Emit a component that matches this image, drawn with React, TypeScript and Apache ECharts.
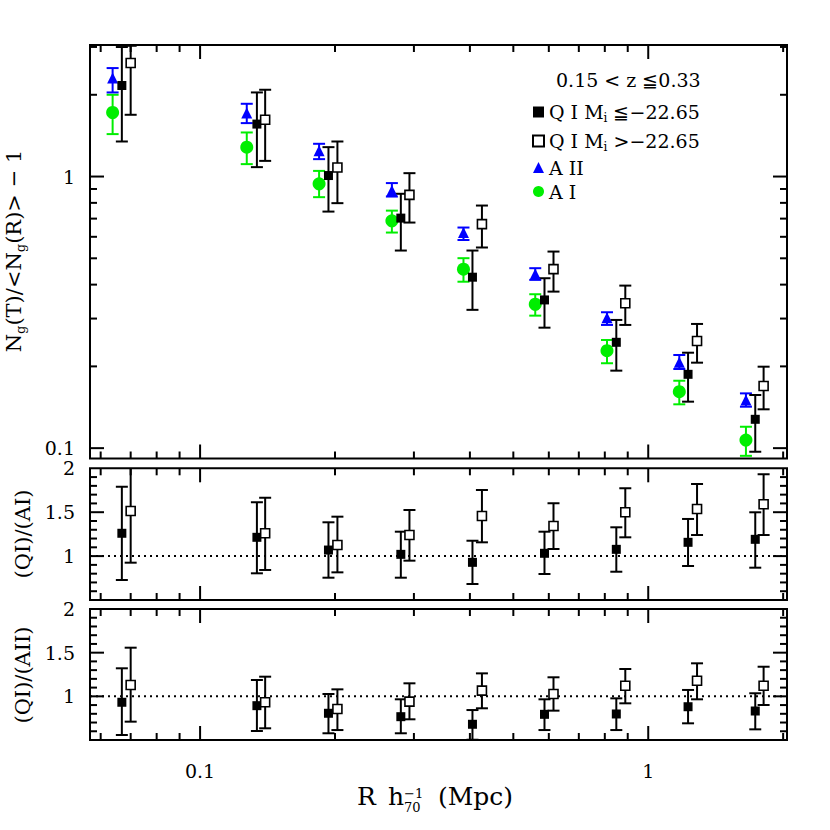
import React, { useEffect, useRef } from "react";
import * as echarts from "echarts";

// ---------- data ----------
const R_A = [0.0638, 0.1271, 0.1843, 0.2679, 0.387, 0.5596, 0.809, 1.173, 1.652];
const R_QIb = [0.0669, 0.1339, 0.1934, 0.2805, 0.4053, 0.5868, 0.8487, 1.227, 1.733];
const R_QIf = [0.07, 0.1397, 0.2025, 0.2932, 0.4255, 0.6146, 0.8888, 1.285, 1.809];

// top panel: Ng(T)/<Ng(R)> - 1
const AII_val = [2.305, 1.712, 1.244, 0.888, 0.622, 0.438, 0.3023, 0.2071, 0.1504];
const AII_lo = [2.04, 1.573, 1.159, 0.844, 0.584, 0.4164, 0.2842, 0.1956, 0.1421];
const AII_hi = [2.508, 1.853, 1.32, 0.946, 0.649, 0.4598, 0.3165, 0.2203, 0.1591];

const AI_val = [1.721, 1.283, 0.94, 0.687, 0.456, 0.3387, 0.2285, 0.1614, 0.1071];
const AI_lo = [1.433, 1.111, 0.8396, 0.622, 0.41, 0.3075, 0.2054, 0.145, 0.0937];
const AI_hi = [2.0, 1.453, 1.049, 0.749, 0.5005, 0.3687, 0.2502, 0.1771, 0.1199];

const QIb_val = [2.164, 1.56, 1.0085, 0.703, 0.426, 0.3513, 0.2453, 0.187, 0.1277];
const QIb_lo = [1.346, 1.083, 0.743, 0.534, 0.323, 0.2777, 0.1929, 0.1483, 0.097];
const QIb_hi = [2.998, 2.04, 1.283, 0.864, 0.534, 0.4223, 0.2965, 0.2246, 0.1569];

const QIf_val = [2.617, 1.618, 1.079, 0.856, 0.668, 0.456, 0.3416, 0.248, 0.1694];
const QIf_lo = [1.688, 1.142, 0.798, 0.677, 0.548, 0.377, 0.2842, 0.2064, 0.139];
const QIf_hi = [3.03, 2.087, 1.346, 1.029, 0.782, 0.5294, 0.3967, 0.2866, 0.1995];

// middle panel: (QI)/(AI)
const rAI_b_val = [1.26, 1.214, 1.069, 1.02, 0.929, 1.032, 1.077, 1.157, 1.191];
const rAI_b_lo = [0.728, 0.804, 0.754, 0.754, 0.682, 0.796, 0.822, 0.887, 0.868];
const rAI_b_hi = [1.79, 1.613, 1.385, 1.278, 1.175, 1.278, 1.328, 1.423, 1.499];
const rAI_f_val = [1.514, 1.26, 1.126, 1.24, 1.457, 1.343, 1.499, 1.536, 1.59];
const rAI_f_lo = [0.925, 0.842, 0.815, 0.948, 1.157, 1.081, 1.214, 1.24, 1.24];
const rAI_f_hi = [2.1, 1.665, 1.449, 1.525, 1.753, 1.601, 1.772, 1.821, 1.932];

// bottom panel: (QI)/(AII)
const rAII_b_val = [0.932, 0.893, 0.806, 0.767, 0.68, 0.794, 0.798, 0.881, 0.832];
const rAII_b_lo = [0.557, 0.603, 0.577, 0.577, 0.503, 0.614, 0.614, 0.691, 0.622];
const rAII_b_hi = [1.321, 1.187, 1.027, 0.966, 0.843, 0.966, 0.977, 1.073, 1.035];
const rAII_f_val = [1.13, 0.932, 0.855, 0.939, 1.065, 1.027, 1.122, 1.179, 1.122];
const rAII_f_lo = [0.71, 0.634, 0.614, 0.737, 0.863, 0.836, 0.92, 0.966, 0.901];
const rAII_f_hi = [1.557, 1.225, 1.08, 1.149, 1.263, 1.218, 1.313, 1.378, 1.339];

// axes
const X_MIN = 0.0568;
const X_MAX = 2.04;
const Y_TOP_MIN = 0.0916;
const Y_TOP_MAX = 3.05;
const Y_R_MIN = 0.5;
const Y_R_MAX = 2;

const X_TICKS_MAJOR = [0.1, 1];
const X_TICKS_MINOR = [0.06, 0.07, 0.08, 0.09, 0.2, 0.3, 0.4, 0.5, 0.6, 0.7, 0.8, 0.9, 2];
const Y_TOP_MAJOR = [0.1, 1];
const Y_TOP_MINOR = [0.2, 0.3, 0.4, 0.5, 0.6, 0.7, 0.8, 0.9, 2, 3];
const Y_R_MAJOR = [1, 1.5];
const Y_R_MINOR = [0.6, 0.7, 0.8, 0.9, 1.1, 1.2, 1.3, 1.4, 1.6, 1.7, 1.8, 1.9];

const LEGEND_NAMES = ["Q I Mi ≦-22.65", "Q I Mi >-22.65", "A II", "A I"];
const HEADER = "0.15 < z ≦0.33";

// ---------- styles ----------
const FONT = "'DejaVu Serif', serif";
const BLUE = "#0000ff";
const GREEN = "#00ee00";
const BLACK = "#000000";

const GRID_LEFT = 90;
const GRID_RIGHT = 43;
const GRIDS = [
  { top: 45, height: 413.5 },
  { top: 468.3, height: 131.7 },
  { top: 609, height: 131 },
];

function errSeries(xs: number[], lo: number[], hi: number[], color: string, g: number, clip: boolean) {
  return {
    type: "custom",
    xAxisIndex: g,
    yAxisIndex: g,
    clip,
    silent: true,
    z: 2,
    encode: { x: 0, y: [1, 2] },
    data: xs.map((x, i) => [x, lo[i], hi[i]]),
    renderItem: (params: any, api: any) => {
      const x = api.value(0);
      const a = api.coord([x, api.value(1)]);
      const b = api.coord([x, api.value(2)]);
      const w = 6;
      const style = { stroke: color, lineWidth: 2, fill: "none" };
      return {
        type: "group",
        children: [
          { type: "line", shape: { x1: a[0], y1: a[1], x2: b[0], y2: b[1] }, style },
          { type: "line", shape: { x1: a[0] - w, y1: a[1], x2: a[0] + w, y2: a[1] }, style },
          { type: "line", shape: { x1: b[0] - w, y1: b[1], x2: b[0] + w, y2: b[1] }, style },
        ],
      };
    },
  };
}

function scatter(name: string, xs: number[], vals: number[], symbol: string, size: number, itemStyle: any, g: number) {
  return {
    type: "scatter",
    name,
    xAxisIndex: g,
    yAxisIndex: g,
    symbol,
    symbolSize: size,
    itemStyle: { opacity: 1, ...itemStyle },
    silent: true,
    z: 3,
    data: xs.map((x, i) => [x, vals[i]]),
  };
}

function tickSeries(g: number, yMaj: number[], yMin: number[], xRef: number, yRef: number) {
  const data: number[][] = [];
  X_TICKS_MAJOR.forEach((v) => data.push([v, yRef, 0, 1]));
  X_TICKS_MINOR.forEach((v) => data.push([v, yRef, 0, 0]));
  yMaj.forEach((v) => data.push([xRef, v, 1, 1]));
  yMin.forEach((v) => data.push([xRef, v, 1, 0]));
  return {
    type: "custom",
    xAxisIndex: g,
    yAxisIndex: g,
    silent: true,
    z: 5,
    encode: { x: 0, y: 1 },
    data,
    renderItem: (params: any, api: any) => {
      const cs = params.coordSys;
      const kind = api.value(2);
      const len = api.value(3) ? 14 : 7;
      const p = api.coord([api.value(0), api.value(1)]);
      const style = { stroke: BLACK, lineWidth: 2 };
      if (kind === 0) {
        const b = cs.y + cs.height;
        return {
          type: "group",
          children: [
            { type: "line", shape: { x1: p[0], y1: b, x2: p[0], y2: b - len }, style },
            { type: "line", shape: { x1: p[0], y1: cs.y, x2: p[0], y2: cs.y + len }, style },
          ],
        };
      }
      const r = cs.x + cs.width;
      return {
        type: "group",
        children: [
          { type: "line", shape: { x1: cs.x, y1: p[1], x2: cs.x + len, y2: p[1] }, style },
          { type: "line", shape: { x1: r, y1: p[1], x2: r - len, y2: p[1] }, style },
        ],
      };
    },
  };
}

function dotted(g: number) {
  return {
    type: "line",
    xAxisIndex: g,
    yAxisIndex: g,
    silent: true,
    symbol: "none",
    z: 1,
    lineStyle: { color: BLACK, width: 2, type: [2, 4] },
    data: [
      [X_MIN, 1],
      [X_MAX, 1],
    ],
  };
}

const labelStyle = { fontFamily: FONT, fontSize: 19, color: BLACK };
const rich = {
  t: { fontFamily: FONT, fontSize: 21, color: BLACK, lineHeight: 24 },
  s: { fontFamily: FONT, fontSize: 13, color: BLACK, lineHeight: 13, padding: [12, 0, 0, 0] },
  lt: { fontFamily: FONT, fontSize: 19, color: BLACK, lineHeight: 22 },
  ls: { fontFamily: FONT, fontSize: 12, color: BLACK, lineHeight: 12, padding: [12, 0, 0, 0] },
};

const legendFormat = (name: string) => {
  if (name.indexOf("Mi") >= 0) {
    const [a, b] = name.split("Mi");
    return `{lt|${a}M}{ls|i}{lt|${b.replace("-", "−")}}`;
  }
  return `{lt|${name}}`;
};

const option: any = {
  animation: false,
  backgroundColor: "#ffffff",
  grid: GRIDS.map((g) => ({
    left: GRID_LEFT,
    right: GRID_RIGHT,
    top: g.top,
    height: g.height,
    show: true,
    borderColor: BLACK,
    borderWidth: 2,
    backgroundColor: "transparent",
  })),
  xAxis: GRIDS.map((_, i) => ({
    type: "log",
    gridIndex: i,
    min: X_MIN,
    max: X_MAX,
    axisLine: { show: false },
    axisTick: { show: false },
    splitLine: { show: false },
    axisLabel: {
      show: i === 2,
      ...labelStyle,
      margin: 21,
      showMinLabel: false,
      showMaxLabel: false,
    },
  })),
  yAxis: GRIDS.map((_, i) =>
    i === 0
      ? {
          type: "log",
          gridIndex: 0,
          min: Y_TOP_MIN,
          max: Y_TOP_MAX,
          axisLine: { show: false },
          axisTick: { show: false },
          splitLine: { show: false },
          axisLabel: { ...labelStyle, margin: 15, showMinLabel: false, showMaxLabel: false },
        }
      : {
          type: "value",
          gridIndex: i,
          min: Y_R_MIN,
          max: Y_R_MAX,
          interval: 0.5,
          axisLine: { show: false },
          axisTick: { show: false },
          splitLine: { show: false },
          axisLabel: { ...labelStyle, margin: 15, showMinLabel: false, showMaxLabel: true },
        }
  ),
  legend: {
    data: LEGEND_NAMES,
    orient: "vertical",
    left: 527,
    top: 95,
    itemWidth: 11,
    itemHeight: 11,
    itemGap: 5,
    selectedMode: false,
    formatter: legendFormat,
    textStyle: { ...labelStyle, rich },
  },
  graphic: [
    {
      type: "text",
      left: 556,
      top: 70,
      style: { text: HEADER, font: `19px ${FONT}`, fill: BLACK },
    },
    {
      type: "text",
      x: 14,
      y: 251,
      rotation: Math.PI / 2,
      style: {
        text: "{t|N}{s|g}{t|(T)/<N}{s|g}{t|(R)> − 1}",
        rich,
        align: "center",
        verticalAlign: "middle",
      },
    },
    {
      type: "text",
      x: 23,
      y: 534,
      rotation: Math.PI / 2,
      style: { text: "(QI)/(AI)", font: `21px ${FONT}`, fill: BLACK, align: "center", verticalAlign: "middle" },
    },
    {
      type: "text",
      x: 23,
      y: 675,
      rotation: Math.PI / 2,
      style: { text: "(QI)/(AII)", font: `21px ${FONT}`, fill: BLACK, align: "center", verticalAlign: "middle" },
    },
    {
      type: "text",
      x: 357,
      y: 796,
      style: { text: "R", font: `25px ${FONT}`, fill: BLACK, align: "left", verticalAlign: "middle" },
    },
    {
      type: "text",
      x: 388,
      y: 796,
      style: { text: "h", font: `25px ${FONT}`, fill: BLACK, align: "left", verticalAlign: "middle" },
    },
    {
      type: "text",
      x: 404,
      y: 793,
      style: { text: "−1", font: `13px ${FONT}`, fill: BLACK, align: "left", verticalAlign: "middle" },
    },
    {
      type: "text",
      x: 404,
      y: 807,
      style: { text: "70", font: `13px ${FONT}`, fill: BLACK, align: "left", verticalAlign: "middle" },
    },
    {
      type: "text",
      x: 438,
      y: 796,
      style: { text: "(Mpc)", font: `25px ${FONT}`, fill: BLACK, align: "left", verticalAlign: "middle" },
    },
  ],
  series: [
    tickSeries(0, Y_TOP_MAJOR, Y_TOP_MINOR, 1, 1),
    tickSeries(1, Y_R_MAJOR, Y_R_MINOR, 1, 1),
    tickSeries(2, Y_R_MAJOR, Y_R_MINOR, 1, 1),
    dotted(1),
    dotted(2),
    // top panel
    errSeries(R_A, AI_lo, AI_hi, GREEN, 0, false),
    errSeries(R_A, AII_lo, AII_hi, BLUE, 0, false),
    errSeries(R_QIb, QIb_lo, QIb_hi, BLACK, 0, false),
    errSeries(R_QIf, QIf_lo, QIf_hi, BLACK, 0, false),
    scatter(LEGEND_NAMES[3], R_A, AI_val, "circle", 13, { color: GREEN }, 0),
    scatter(LEGEND_NAMES[2], R_A, AII_val, "triangle", 11, { color: BLUE }, 0),
    scatter(LEGEND_NAMES[0], R_QIb, QIb_val, "rect", 9, { color: BLACK }, 0),
    scatter(LEGEND_NAMES[1], R_QIf, QIf_val, "rect", 9, { color: "#ffffff", borderColor: BLACK, borderWidth: 1.6 }, 0),
    // middle panel
    errSeries(R_QIb, rAI_b_lo, rAI_b_hi, BLACK, 1, true),
    errSeries(R_QIf, rAI_f_lo, rAI_f_hi, BLACK, 1, true),
    scatter("AI ratio bright", R_QIb, rAI_b_val, "rect", 9, { color: BLACK }, 1),
    scatter("AI ratio faint", R_QIf, rAI_f_val, "rect", 9, { color: "#ffffff", borderColor: BLACK, borderWidth: 1.6 }, 1),
    // bottom panel
    errSeries(R_QIb, rAII_b_lo, rAII_b_hi, BLACK, 2, true),
    errSeries(R_QIf, rAII_f_lo, rAII_f_hi, BLACK, 2, true),
    scatter("AII ratio bright", R_QIb, rAII_b_val, "rect", 9, { color: BLACK }, 2),
    scatter("AII ratio faint", R_QIf, rAII_f_val, "rect", 9, { color: "#ffffff", borderColor: BLACK, borderWidth: 1.6 }, 2),
  ],
};

export default function App() {
  const ref = useRef<HTMLDivElement>(null);
  useEffect(() => {
    const chart = echarts.init(ref.current!, null, { renderer: "svg" });
    chart.setOption(option);
    return () => chart.dispose();
  }, []);
  return (
    <div
      ref={ref}
      style={{ position: "fixed", left: 0, top: 0, width: 830, height: 830, background: "#fff" }}
    />
  );
}
